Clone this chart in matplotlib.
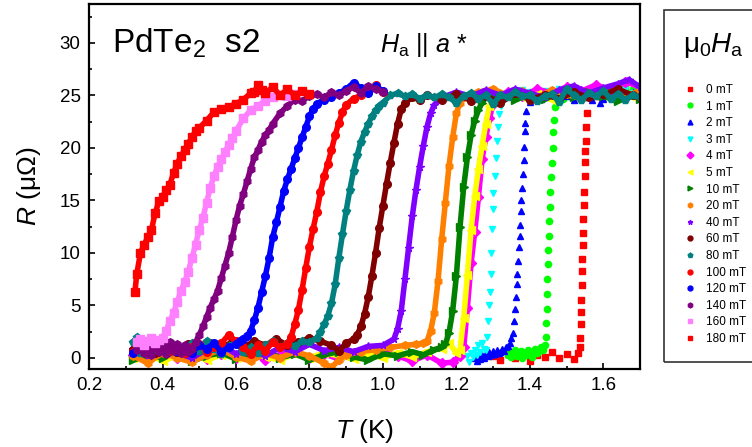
import matplotlib
matplotlib.use('Agg')
import matplotlib.pyplot as plt
from matplotlib.lines import Line2D
from matplotlib.patches import Rectangle
from matplotlib.ticker import MultipleLocator

plt.rcParams['font.family'] = ['Liberation Sans', 'DejaVu Sans']
plt.rcParams['mathtext.fontset'] = 'custom'
plt.rcParams['mathtext.rm'] = 'Liberation Sans'
plt.rcParams['mathtext.it'] = 'Liberation Sans:italic'

# ---------------------------------------------------------------- data
fields = [0, 1, 2, 3, 4, 5, 10, 20, 40, 60, 80, 100, 120, 140, 160, 180]
colors = ['#FF0000', '#00FF00', '#0000FF', '#00FFFF', '#FF00FF', '#FFFF00',
          '#008000', '#FF8000', '#8000FF', '#800000', '#008080', '#FF0000',
          '#0000FF', '#800080', '#FF80FF', '#FF0000']
markers = ['s', 'o', '^', 'v', 'D', '<', '>', 'h', '*', 'o', 'p', 'o',
           'o', 'h', 's', 's']

t_0 = [1.30, 1.32, 1.34, 1.36, 1.38, 1.40, 1.42, 1.44, 1.46, 1.48, 1.50, 1.52, 1.53,
       1.536, 1.537, 1.538, 1.539, 1.540, 1.541, 1.542, 1.543, 1.544, 1.545, 1.546,
       1.547, 1.548, 1.549, 1.550, 1.551, 1.552, 1.554, 1.557,
       1.56, 1.57, 1.58, 1.59, 1.60, 1.62, 1.64, 1.66, 1.68, 1.70]
r_0 = [0.2, -0.2, 0.4, 0.0, 0.5, -0.3, 0.3, 0.1, 0.6, 0.0, 0.4, -0.1, 0.5,
       1.0, 1.9, 3.2, 4.4, 5.5, 6.9, 8.3, 9.4, 10.8, 11.9, 13.2,
       14.6, 15.8, 17.3, 18.7, 19.7, 20.7, 22.0, 23.3,
       24.8, 25.2, 24.9, 25.4, 25.0, 25.6, 25.1, 25.5, 25.2, 25.0]

t_1 = [1.340, 1.345, 1.350, 1.355, 1.360, 1.365, 1.370, 1.375, 1.380, 1.385, 1.390,
       1.395, 1.400, 1.405, 1.410, 1.415, 1.420, 1.425, 1.430, 1.435, 1.440,
       1.444, 1.445, 1.446, 1.447, 1.448, 1.449, 1.450, 1.451, 1.452, 1.454, 1.456,
       1.458, 1.460, 1.462, 1.464, 1.466, 1.468,
       1.47, 1.48, 1.49, 1.50, 1.51, 1.52, 1.53, 1.54, 1.55, 1.56, 1.57, 1.58,
       1.59, 1.60, 1.61, 1.62, 1.63, 1.64, 1.65, 1.66, 1.67, 1.68, 1.69, 1.70]
r_1 = [0.3, 0.6, 0.1, 0.5, 0.8, 0.2, 0.4, 0.7, 0.0, 0.5, 0.3, 0.8, 0.4, 0.1, 0.6,
       0.9, 0.5, 0.7, 1.0, 0.8, 1.2,
       2.0, 3.3, 4.7, 6.1, 7.5, 8.9, 10.3, 11.6, 13.0, 14.4, 15.8,
       17.2, 18.6, 20.0, 21.5, 22.7, 23.9,
       24.6, 25.0, 24.7, 25.2, 24.9, 25.4, 25.0, 24.8, 25.3, 25.1, 25.6, 25.2,
       24.9, 25.4, 25.0, 25.7, 25.3, 25.0, 25.5, 25.8, 25.2, 25.6, 25.1, 25.4]

t_2 = [1.250, 1.255, 1.260, 1.265, 1.270, 1.275, 1.280, 1.285, 1.290, 1.295, 1.300,
       1.305, 1.310, 1.315, 1.320, 1.325, 1.330, 1.335, 1.340, 1.345, 1.350,
       1.355, 1.358, 1.360, 1.362, 1.364, 1.366, 1.368, 1.370, 1.372, 1.373,
       1.375, 1.377, 1.379, 1.381, 1.383, 1.385, 1.387, 1.388, 1.390,
       1.40, 1.41, 1.42, 1.43, 1.44, 1.45, 1.46, 1.47, 1.48, 1.49, 1.50, 1.51,
       1.52, 1.53, 1.54, 1.55, 1.56, 1.57, 1.58, 1.59, 1.60, 1.62, 1.64, 1.66, 1.68, 1.70]
r_2 = [0.0, -0.3, 0.2, -0.1, 0.3, 0.0, 0.5, 0.2, 0.6, 0.3, 0.7, 0.4, 0.8, 0.5,
       0.6, 0.9, 0.7, 1.0, 1.1, 1.4, 1.9,
       2.4, 3.5, 4.7, 5.8, 7.0, 8.0, 9.2, 10.6, 11.6, 12.7,
       14.0, 15.0, 16.2, 17.5, 18.8, 20.1, 21.6, 22.4, 23.5,
       24.4, 24.8, 25.1, 24.7, 25.2, 24.9, 25.4, 24.8, 25.1, 25.5, 24.9, 25.2,
       24.6, 25.0, 25.3, 24.8, 25.1, 24.6, 25.0, 24.3, 24.7, 25.2, 25.5, 25.0, 25.3, 25.1]

t_3 = [1.230, 1.235, 1.240, 1.245, 1.250, 1.255, 1.260, 1.265, 1.270, 1.275, 1.280,
       1.284, 1.287, 1.289, 1.291, 1.293, 1.295, 1.297, 1.299, 1.301, 1.304,
       1.307, 1.310, 1.313, 1.317, 1.322,
       1.33, 1.34, 1.35, 1.36, 1.37, 1.38, 1.39, 1.40, 1.42, 1.44, 1.46, 1.48,
       1.50, 1.52, 1.54, 1.56, 1.58, 1.60, 1.62, 1.64, 1.66, 1.68, 1.70]
r_3 = [0.2, -0.4, 0.5, 0.1, 0.8, 0.3, 1.2, 0.6, 1.4, 0.9, 0.8,
       2.0, 3.5, 5.0, 6.3, 8.0, 10.0, 12.3, 14.2, 15.7, 17.3,
       19.0, 20.7, 22.0, 23.2, 24.0,
       24.6, 25.0, 25.3, 24.8, 25.2, 25.5, 25.0, 25.3, 24.9, 25.4, 25.1, 25.6,
       25.2, 25.5, 25.0, 25.4, 25.9, 25.3, 25.6, 25.1, 25.5, 25.2, 25.6]

t_4 = [0.32, 0.36, 0.40, 0.44, 0.48, 0.52, 0.56, 0.60, 0.64, 0.68, 0.72, 0.76,
       0.80, 0.84, 0.88, 0.92, 0.96, 1.00, 1.04, 1.08, 1.12, 1.16, 1.19, 1.21,
       1.22, 1.23, 1.24, 1.25, 1.26, 1.27, 1.28, 1.29, 1.30, 1.31,
       1.34, 1.38, 1.42, 1.46, 1.50, 1.54, 1.58, 1.62, 1.66, 1.70]
r_4 = [0.3, -0.2, 0.5, 0.0, 0.6, -0.1, 0.4, 0.0, 0.5, -0.2, 0.3, 0.6,
       0.0, 0.4, -0.1, 0.5, 0.1, 0.6, 0.2, -0.3, 0.3, -0.5, -0.4, 0.2,
       1.0, 4.8, 9.0, 12.0, 15.3, 18.9, 21.0, 22.8, 24.2, 24.8,
       25.3, 24.9, 25.6, 25.2, 25.8, 25.4, 26.0, 25.5, 26.3, 25.8]

t_5 = [0.32, 0.36, 0.40, 0.44, 0.48, 0.52, 0.56, 0.60, 0.64, 0.68, 0.72, 0.76,
       0.80, 0.84, 0.88, 0.92, 0.96, 1.00, 1.04, 1.08, 1.12, 1.16, 1.18, 1.20,
       1.21, 1.22, 1.23, 1.24, 1.25, 1.26, 1.27, 1.28, 1.29, 1.30,
       1.34, 1.38, 1.42, 1.46, 1.50, 1.54, 1.58, 1.62, 1.66, 1.70]
r_5 = [0.0, 0.4, -0.3, 0.2, 0.5, -0.2, 0.3, 0.0, 0.6, 0.1, -0.2, 0.4,
       0.0, 0.5, 0.2, -0.1, 0.4, 0.0, 0.5, 0.1, 0.6, 0.9, 1.4, 0.5,
       0.8, 3.8, 7.9, 12.2, 15.4, 18.0, 20.2, 22.3, 24.0, 24.8,
       25.2, 24.8, 25.1, 24.6, 25.3, 24.9, 25.2, 24.7, 25.0, 24.6]

t_10 = [0.32, 0.36, 0.40, 0.44, 0.48, 0.52, 0.56, 0.60, 0.64, 0.68, 0.72, 0.76,
        0.80, 0.84, 0.88, 0.92, 0.96, 1.00, 1.04, 1.08, 1.11, 1.14, 1.16,
        1.17, 1.18, 1.19, 1.20, 1.21, 1.22, 1.23, 1.24, 1.25, 1.26, 1.27, 1.28,
        1.32, 1.36, 1.40, 1.44, 1.48, 1.52, 1.56, 1.60, 1.64, 1.68, 1.70]
r_10 = [-0.2, 0.3, 0.0, 0.6, -0.3, 0.2, 0.5, -0.1, 0.3, 0.7, 0.0, 0.4,
        -0.2, 0.3, 0.6, 0.1, -0.2, 0.4, 0.2, 0.6, 0.3, 0.8, 1.0,
        1.3, 2.4, 4.5, 7.8, 12.5, 16.3, 19.1, 21.2, 22.6, 23.6, 24.3, 24.8,
        25.1, 24.6, 25.0, 24.7, 25.2, 24.8, 25.3, 24.9, 24.5, 25.0, 24.7]

t_20 = [0.32, 0.36, 0.40, 0.44, 0.48, 0.52, 0.56, 0.60, 0.64, 0.68, 0.72, 0.76,
        0.80, 0.84, 0.86, 0.88, 0.90, 0.94, 0.98, 1.02, 1.06, 1.09, 1.11,
        1.12, 1.13, 1.14, 1.15, 1.16, 1.17, 1.18, 1.19, 1.20, 1.21, 1.22,
        1.26, 1.30, 1.34, 1.38, 1.42, 1.46, 1.50, 1.54, 1.58, 1.62, 1.66, 1.70]
r_20 = [0.2, -0.5, 0.5, 0.0, -0.4, 0.3, 0.8, 0.1, -0.3, 0.4, 0.0, 0.6,
        0.2, -0.5, -0.9, -0.2, 0.3, 0.6, 0.8, 1.0, 1.2, 1.3, 1.4,
        1.6, 2.6, 4.3, 7.3, 11.3, 14.8, 18.3, 21.0, 23.3, 24.3, 24.8,
        25.3, 25.6, 25.0, 25.4, 24.8, 25.5, 25.1, 24.7, 25.3, 25.7, 25.0, 25.4]

t_40 = [0.32, 0.36, 0.40, 0.44, 0.48, 0.52, 0.56, 0.60, 0.64, 0.68, 0.72, 0.76,
        0.80, 0.84, 0.88, 0.92, 0.96, 1.00, 1.03, 1.04, 1.05, 1.06, 1.07, 1.08,
        1.09, 1.10, 1.11, 1.12, 1.13, 1.14, 1.16, 1.20, 1.24, 1.28, 1.32, 1.36,
        1.40, 1.44, 1.48, 1.52, 1.56, 1.60, 1.64, 1.67, 1.70]
r_40 = [0.9, 0.3, 1.1, 0.5, 0.0, 0.8, 1.2, 0.4, 0.9, 0.2, 1.0, 0.6,
        1.3, 0.7, 1.0, 0.6, 1.1, 1.2, 1.8, 2.8, 4.5, 7.5, 10.5, 13.5,
        16.0, 18.2, 20.2, 22.0, 23.3, 24.1, 24.8, 25.3, 24.9, 25.5, 25.0, 25.6,
        25.2, 24.8, 25.5, 25.9, 25.2, 25.7, 26.1, 26.5, 25.8]

t_60 = [0.32, 0.35, 0.38, 0.41, 0.44, 0.47, 0.50, 0.53, 0.56, 0.59, 0.62, 0.65,
        0.68, 0.71, 0.74, 0.77, 0.80, 0.83, 0.86, 0.88, 0.90, 0.92, 0.93,
        0.94, 0.95, 0.96, 0.97, 0.98, 0.99, 1.00, 1.01, 1.02, 1.03, 1.04, 1.05,
        1.06, 1.08, 1.10, 1.12, 1.16, 1.20, 1.24, 1.28, 1.32, 1.36, 1.40, 1.44,
        1.48, 1.52, 1.56, 1.60, 1.64, 1.68, 1.70]
r_60 = [0.8, 1.2, 0.5, 1.0, 0.6, 1.3, 0.8, 1.4, 1.0, 1.5, 1.0, 1.6,
        1.2, 1.8, 1.2, 1.5, 1.9, 1.6, 1.2, 0.7, 1.4, 1.8, 2.2,
        3.0, 4.2, 5.8, 7.8, 10.0, 12.4, 14.5, 16.6, 18.6, 20.5, 22.3, 23.7,
        24.3, 24.8, 24.6, 25.0, 24.6, 25.1, 24.5, 24.9, 24.3, 25.2, 24.6, 25.0,
        24.7, 25.3, 24.8, 25.1, 25.6, 25.0, 24.8]

t_80 = [0.32, 0.33, 0.34, 0.36, 0.38, 0.40, 0.42, 0.44, 0.46, 0.48, 0.50, 0.52,
        0.54, 0.56, 0.58, 0.60, 0.62, 0.64, 0.66, 0.68, 0.70, 0.72, 0.74, 0.76,
        0.78, 0.80, 0.82, 0.83, 0.84, 0.85, 0.86, 0.87, 0.88, 0.89, 0.90, 0.91,
        0.92, 0.93, 0.94, 0.95, 0.96, 0.97, 0.98, 0.99, 1.00, 1.02, 1.04, 1.06,
        1.08, 1.10, 1.12, 1.14, 1.16, 1.18, 1.20, 1.22, 1.24, 1.26, 1.28, 1.30,
        1.32, 1.34, 1.36, 1.38, 1.40, 1.42, 1.44, 1.46, 1.48, 1.50, 1.52, 1.54,
        1.56, 1.58, 1.60, 1.62, 1.64, 1.66, 1.68, 1.70]
r_80 = [1.5, 2.0, 0.5, 1.3, 0.8, 1.6, 0.6, 1.2, 0.5, 1.4, 0.7, 1.6,
        0.9, 0.4, 1.1, 1.5, 0.6, 1.0, 0.5, 1.2, 1.6, 1.0, 1.4, 1.1,
        1.6, 1.5, 1.9, 2.5, 3.2, 4.0, 5.2, 7.0, 9.5, 11.8, 14.0, 16.0,
        17.8, 19.3, 20.6, 21.5, 22.3, 23.0, 23.6, 24.0, 24.3, 25.0, 25.2, 24.9,
        25.1, 24.7, 25.0, 24.8, 25.1, 24.8, 24.3, 24.9, 25.2, 24.7, 25.0, 24.2,
        25.0, 24.8, 25.3, 24.9, 25.0, 24.5, 24.9, 25.1, 24.4, 25.6, 25.0, 24.6,
        25.2, 24.9, 25.4, 24.7, 25.1, 24.6, 25.0, 24.8]

t_100 = [0.32, 0.34, 0.36, 0.38, 0.40, 0.42, 0.44, 0.46, 0.48, 0.50, 0.52, 0.54,
         0.56, 0.58, 0.60, 0.62, 0.64, 0.66, 0.68, 0.70, 0.72, 0.74, 0.75, 0.76,
         0.77, 0.78, 0.79, 0.80, 0.81, 0.82, 0.83, 0.84, 0.85, 0.86, 0.87, 0.88,
         0.89, 0.90, 0.92, 0.94, 0.96, 0.98, 1.00]
r_100 = [0.6, 1.3, 0.5, 1.0, 1.4, 0.7, 1.1, 0.5, 1.0, 1.3, 0.6, 1.0,
         1.4, 2.2, 1.6, 1.0, 0.4, 1.2, 0.7, 1.5, 1.0, 1.3, 2.0, 3.2,
         4.6, 6.5, 8.6, 10.6, 12.3, 13.9, 15.8, 17.3, 18.5, 19.8, 21.2, 22.4,
         23.4, 24.1, 24.7, 25.0, 25.4, 26.0, 25.3]

t_120 = [0.32, 0.34, 0.36, 0.38, 0.40, 0.42, 0.44, 0.46, 0.48, 0.50, 0.52, 0.54,
         0.56, 0.58, 0.60, 0.61, 0.62, 0.63, 0.64, 0.65, 0.66, 0.67, 0.68, 0.69,
         0.70, 0.71, 0.72, 0.73, 0.74, 0.75, 0.76, 0.77, 0.78, 0.79, 0.80, 0.81,
         0.82, 0.84, 0.86, 0.88, 0.90, 0.92, 0.94, 0.96, 0.98, 1.00]
r_120 = [0.5, 1.2, 0.6, 1.3, 0.8, 1.4, 0.7, 1.1, 0.5, 1.2, 0.9, 1.4,
         0.6, 1.0, 1.3, 1.6, 1.8, 2.1, 2.6, 3.6, 4.8, 6.3, 7.8, 9.5,
         11.5, 12.9, 14.4, 15.9, 17.0, 18.0, 19.0, 20.0, 21.0, 22.0, 23.0, 23.7,
         24.2, 24.6, 24.8, 25.2, 25.6, 26.2, 25.7, 25.2, 25.9, 25.4]

t_140 = [0.33, 0.34, 0.35, 0.36, 0.37, 0.38, 0.39, 0.40, 0.41, 0.42, 0.43, 0.44,
         0.45, 0.46, 0.47, 0.48, 0.49, 0.50, 0.51, 0.52, 0.53, 0.54, 0.55, 0.56,
         0.57, 0.58, 0.59, 0.60, 0.61, 0.62, 0.63, 0.64, 0.65, 0.66, 0.67, 0.68,
         0.69, 0.70, 0.72, 0.74, 0.76, 0.78, 0.80, 0.82, 0.84, 0.86, 0.88, 0.90,
         0.92, 0.94, 0.96, 0.98, 1.00]
r_140 = [0.8, 1.5, 0.5, 1.2, 0.3, 1.6, 0.6, 1.4, 0.4, 1.5, 0.7, 1.3,
         0.5, 1.2, 0.6, 0.9, 1.5, 2.2, 3.0, 3.9, 4.8, 5.6, 6.4, 7.6,
         8.8, 10.0, 11.5, 13.1, 14.5, 15.6, 16.8, 18.0, 19.1, 19.8, 20.6, 21.2,
         21.7, 22.3, 23.3, 24.0, 24.6, 24.5, 24.9, 25.1, 24.8, 25.3, 25.0, 25.4,
         25.8, 25.2, 25.9, 25.6, 25.3]

t_160 = [0.33, 0.34, 0.35, 0.36, 0.37, 0.38, 0.39, 0.40, 0.41, 0.42, 0.43, 0.44,
         0.45, 0.46, 0.47, 0.48, 0.49, 0.50, 0.51, 0.52, 0.53, 0.54, 0.55, 0.56,
         0.57, 0.58, 0.59, 0.60, 0.62, 0.64, 0.66, 0.68, 0.70, 0.72, 0.74, 0.76]
r_160 = [1.5, 1.8, 1.2, 1.6, 1.9, 1.4, 1.7, 1.9, 2.6, 3.5, 4.3, 5.3,
         6.4, 7.2, 8.2, 9.5, 10.8, 12.2, 13.3, 14.8, 16.2, 17.3, 18.2, 18.9,
         19.6, 20.3, 20.9, 21.6, 22.8, 23.6, 24.0, 24.5, 24.8, 25.0, 24.9, 25.1]

t_180 = [0.325, 0.33, 0.34, 0.35, 0.36, 0.37, 0.38, 0.39, 0.40, 0.41, 0.42, 0.43,
         0.44, 0.45, 0.46, 0.47, 0.48, 0.49, 0.50, 0.52, 0.54, 0.56, 0.58, 0.60,
         0.62, 0.64, 0.65, 0.66, 0.67, 0.68, 0.70, 0.72, 0.74, 0.76, 0.78, 0.80]
r_180 = [6.3, 8.0, 10.0, 10.8, 11.5, 12.2, 13.8, 14.9, 15.3, 16.0, 16.5, 17.6,
         18.5, 19.2, 19.8, 20.4, 21.0, 21.6, 21.9, 22.6, 23.4, 23.7, 23.9, 24.2,
         24.6, 25.2, 25.3, 26.0, 25.5, 25.2, 25.8, 25.0, 25.6, 25.0, 25.4, 25.1]

temps = [t_0, t_1, t_2, t_3, t_4, t_5, t_10, t_20, t_40, t_60, t_80, t_100,
         t_120, t_140, t_160, t_180]
resist = [r_0, r_1, r_2, r_3, r_4, r_5, r_10, r_20, r_40, r_60, r_80, r_100,
          r_120, r_140, r_160, r_180]

x_ticks = [0.2, 0.4, 0.6, 0.8, 1.0, 1.2, 1.4, 1.6]
y_ticks = [0, 5, 10, 15, 20, 25, 30]

# ---------------------------------------------------------------- figure
fig = plt.figure(figsize=(7.52, 4.47), dpi=100)
ax = fig.add_axes([0.1184, 0.1745, 0.7327, 0.8166])

for fld, t, r, c, m in zip(fields, temps, resist, colors, markers):
    if fld <= 3:
        # sparse points through the transition: markers only
        ax.plot(t, r, ls='none', marker=m, color=c, ms=4.5, mec=c)
    else:
        ax.plot(t, r, ls='-', lw=4, marker=m, color=c, ms=5.5, mec=c)

ax.set_xlim(0.2, 1.7)
ax.set_ylim(-1.05, 33.7)
ax.set_xticks(x_ticks)
ax.set_xticklabels([f'{v:.1f}' for v in x_ticks])
ax.set_yticks(y_ticks)
ax.xaxis.set_minor_locator(MultipleLocator(0.1))
ax.yaxis.set_minor_locator(MultipleLocator(2.5))
ax.tick_params(which='both', direction='in', top=False, right=False,
               labelsize=13.5, width=1.2)
ax.tick_params(which='major', length=4.5, pad=6)
ax.tick_params(which='minor', length=2.5)
for sp in ax.spines.values():
    sp.set_linewidth(1.6)

ax.set_xlabel('$T$ (K)', fontsize=19, labelpad=16)
ax.set_ylabel('$R$ (μΩ)', fontsize=19, labelpad=12)

ax.text(0.042, 0.866, 'PdTe$_2$  s2', transform=ax.transAxes,
        fontsize=24, va='baseline')
ax.text(0.528, 0.868, r'$H_\mathrm{a}$ || $a$ *', transform=ax.transAxes,
        fontsize=18, va='baseline')

# legend box on the right, cut by the figure edge
fig.patches.append(Rectangle((664 / 752, 1 - 362 / 447), 0.2, 352 / 447,
                             transform=fig.transFigure, fill=False,
                             lw=1.2, ec='#333333'))
fig.text(683 / 752, 1 - 52 / 447, r'$\mathrm{μ}_0H_\mathrm{a}$', fontsize=20,
         va='baseline')
handles = [Line2D([], [], ls='none', marker=m, color=c, mec=c, ms=3.5)
           for c, m in zip(colors, markers)]
labels = [f'{f} mT' for f in fields]
fig.legend(handles, labels, loc='upper left',
           bbox_to_anchor=(684 / 752, 1 - 84 / 447), frameon=False,
           fontsize=8.5, labelspacing=0.39, handlelength=1.0,
           handletextpad=0.9, borderpad=0, borderaxespad=0)

fig.savefig('out.png', dpi=100)
